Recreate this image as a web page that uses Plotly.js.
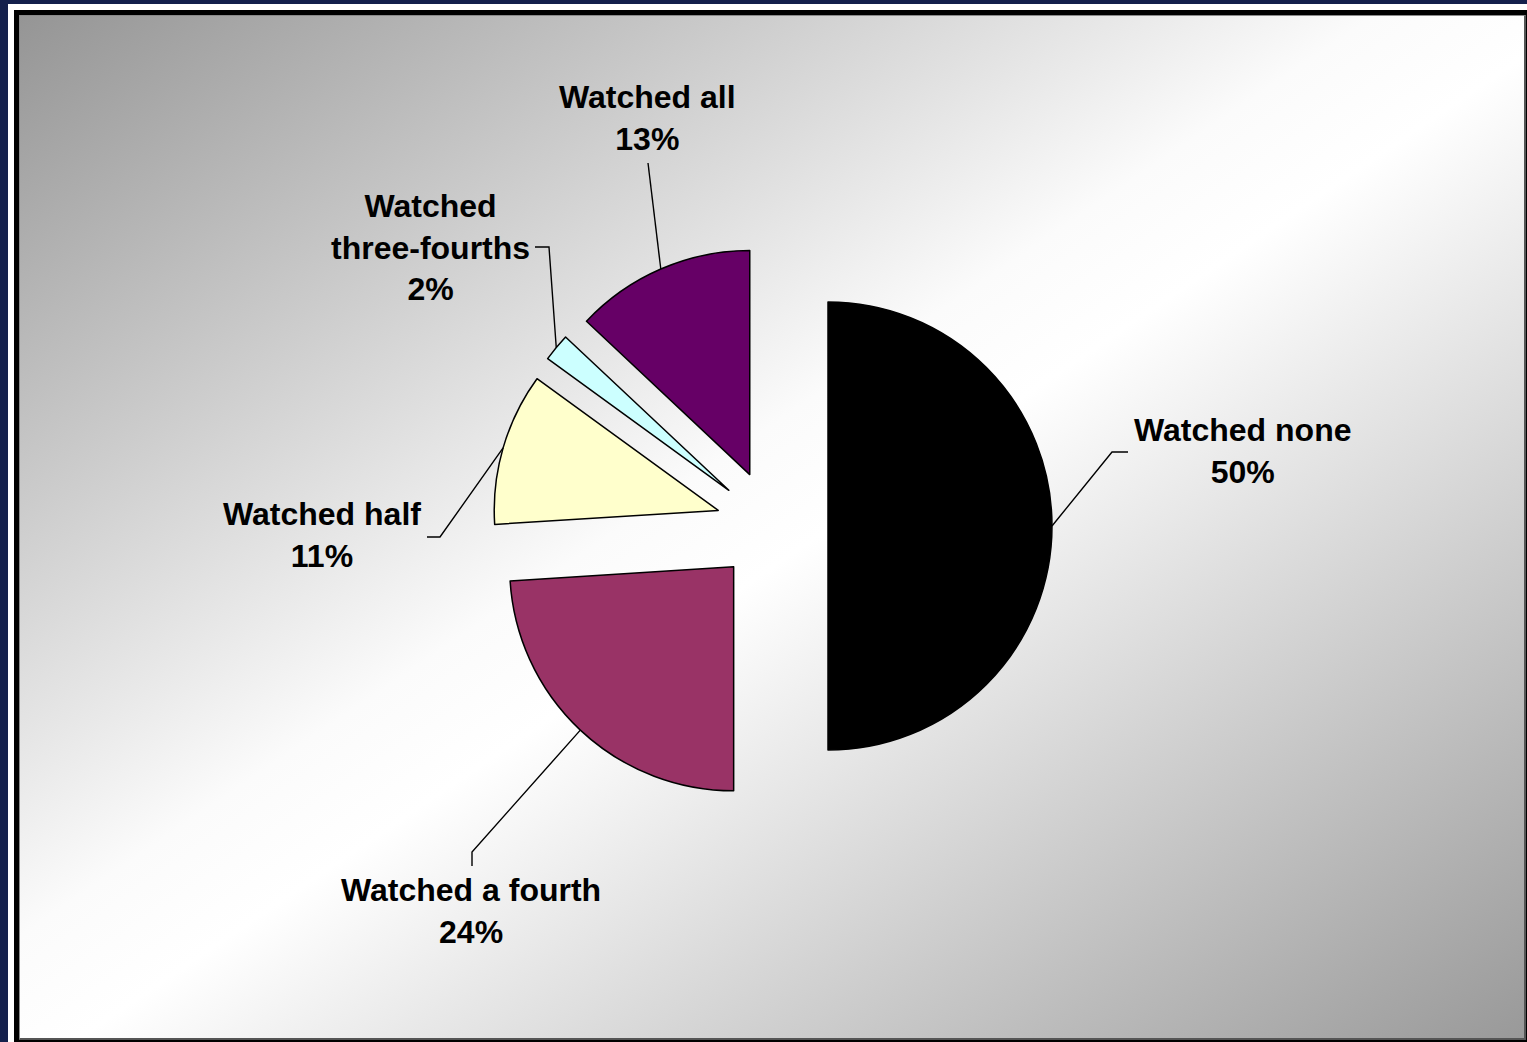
<!DOCTYPE html>
<html>
<head>
<meta charset="utf-8">
<script src="https://cdn.plot.ly/plotly-3.0.1.min.js"></script>
<style>
  html, body { margin:0; padding:0; width:1527px; height:1042px; overflow:hidden; background:#14204c; }
  #white { position:absolute; left:8px; top:4px; width:1600px; height:1100px; background:#ffffff; }
  #black { position:absolute; left:14px; top:10px; width:1600px; height:1100px; background:#000000; }
  #inner { position:absolute; left:19px; top:15px; width:1504px; height:1022px; border:1px solid #8a8a8a; border-right:2px solid #555; border-bottom:2px solid #555;
           background:linear-gradient(to bottom right, #959595 0%, #fbfbfb 45%, #ffffff 52%, #999999 100%); }
  #chart { position:absolute; left:0; top:0; width:1527px; height:1042px; }
</style>
</head>
<body>
<div id="white"></div>
<div id="black"></div>
<div id="inner"></div>
<div id="chart"></div>
<script>
// ---- data ----
const categories = ['Watched none', 'Watched a fourth', 'Watched half', 'Watched three-fourths', 'Watched all'];
const values = [50, 24, 11, 2, 13];

// ---- style / layout ----
const sliceColors = ['#000000', '#993366', '#FFFFCC', '#CCFFFF', '#660066'];
const W = 1527, H = 1042;
const pieCx = 772, pieCy = 526, pieR = 224, pullFrac = 0.25;
const breakAfterFirstWord = [false, false, false, true, false];
// label block centres and leader-line elbows / ends (pixels)
const labelCenter = [[1242, 451], [471, 911], [322, 535], [430, 248], [647, 118]];
const leaderElbow = [[1112, 452], [472, 852], [440, 537], [549, 247], [648, 163]];
const leaderEnd   = [[1128, 452], [472, 866], [427, 537], [535, 247], null];

const px = x => x / W;
const py = y => 1 - y / H;

const side = pieR * (2 + 2 * pullFrac);
const domain = {
  x: [px(pieCx - side / 2), px(pieCx + side / 2)],
  y: [py(pieCy + side / 2), py(pieCy - side / 2)]
};

const total = values.reduce((a, b) => a + b, 0);

const annotations = [];
const shapes = [];
let cum = 0;
values.forEach((v, i) => {
  const midFrac = (cum + v / 2) / total;
  cum += v;
  const ang = midFrac * 2 * Math.PI; // clockwise from 12 o'clock
  const dx = Math.sin(ang), dy = -Math.cos(ang);
  const reach = pieR * (1 + pullFrac);
  const ax = pieCx + dx * reach, ay = pieCy + dy * reach;
  let path = `M ${px(ax)},${py(ay)} L ${px(leaderElbow[i][0])},${py(leaderElbow[i][1])}`;
  if (leaderEnd[i]) path += ` L ${px(leaderEnd[i][0])},${py(leaderEnd[i][1])}`;
  shapes.push({ type: 'path', xref: 'paper', yref: 'paper', path: path,
                line: { color: '#000000', width: 1.4 } });
  let name = categories[i];
  if (breakAfterFirstWord[i]) name = name.replace(' ', '<br>');
  const pct = Math.round(v / total * 100) + '%';
  annotations.push({
    xref: 'paper', yref: 'paper',
    x: px(labelCenter[i][0]), y: py(labelCenter[i][1]),
    xanchor: 'center', yanchor: 'middle', align: 'center',
    showarrow: false,
    text: name + '<br>' + pct,
    font: { family: 'Liberation Sans, Arial, sans-serif', size: 32, color: '#000000', weight: 'bold' }
  });
});

const trace = {
  type: 'pie',
  labels: categories,
  values: values,
  sort: false,
  direction: 'clockwise',
  rotation: 0,
  pull: values.map(() => pullFrac),
  marker: { colors: sliceColors, line: { color: '#000000', width: 1.5 } },
  textinfo: 'none',
  hoverinfo: 'label+percent',
  domain: domain,
  showlegend: false
};

const layout = {
  width: W, height: H,
  margin: { l: 0, r: 0, t: 0, b: 0 },
  paper_bgcolor: 'rgba(0,0,0,0)',
  plot_bgcolor: 'rgba(0,0,0,0)',
  showlegend: false,
  annotations: annotations,
  shapes: shapes
};

Plotly.newPlot('chart', [trace], layout, { displayModeBar: false, staticPlot: true });
</script>
</body>
</html>
